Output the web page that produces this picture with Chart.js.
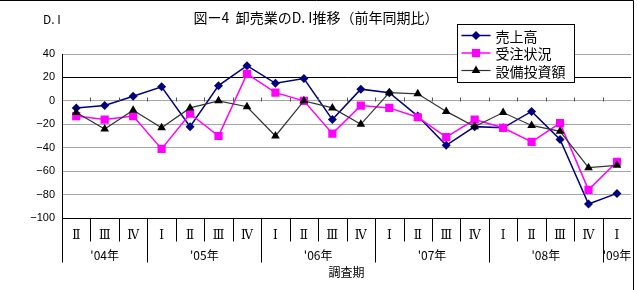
<!DOCTYPE html>
<html>
<head>
<meta charset="utf-8">
<script src="https://cdn.jsdelivr.net/npm/chart.js@4/dist/chart.umd.min.js"></script>
<style>
  html, body { margin: 0; padding: 0; background: #fff; }
  #wrap { width: 637px; height: 290px; position: relative; }
</style>
</head>
<body>
<div id="wrap"><canvas id="chart" width="637" height="290"></canvas></div>
<script>
// survey quarters, '04 II through '09 I
const quarterLabels = ['Ⅱ', 'Ⅲ', 'Ⅳ', 'Ⅰ', 'Ⅱ', 'Ⅲ', 'Ⅳ', 'Ⅰ', 'Ⅱ', 'Ⅲ', 'Ⅳ',
                       'Ⅰ', 'Ⅱ', 'Ⅲ', 'Ⅳ', 'Ⅰ', 'Ⅱ', 'Ⅲ', 'Ⅳ', 'Ⅰ'];
const yearLabels = ["'04年", "'05年", "'06年", "'07年", "'08年", "'09年"];
const yearSpans = [3, 4, 4, 4, 4, 1];

const salesDI   = [-6, -4, 4, 12, -22, 13, 30, 15, 19, -16, 10, 7, -13, -38, -22, -23, -9, -33, -88, -79];
const ordersDI  = [-13, -16, -13, -41, -11, -30, 23, 7, 0, -28, -4, -6, -14, -31, -16, -23, -35, -19, -76, -52];
const capexDI   = [-10, -24, -8, -23, -6, 0, -5, -30, 0, -6, -20, 7, 6, -9, -22, -10, -21, -26, -57, -55];

const seriesNames = ['売上高', '受注状況', '設備投資額'];
const yMin = -100, yMax = 40, yStep = 20;

const titleText = '図ー4  卸売業のD. I推移（前年同期比）';
const yAxisText = 'D. I';
const xAxisText = '調査期';

const jpFont = '"Noto Sans CJK JP", "Noto Sans", sans-serif';
const numFont = '"Liberation Sans", Arial, sans-serif';

// legend marker, drawn to match the point styles used in the chart
function drawMarker(ctx, style, x, y, r, color) {
  ctx.fillStyle = color;
  ctx.beginPath();
  if (style === 'rectRot') {
    ctx.moveTo(x, y - r); ctx.lineTo(x + r, y); ctx.lineTo(x, y + r); ctx.lineTo(x - r, y);
  } else if (style === 'rect') {
    const s = r * Math.SQRT1_2;
    ctx.rect(x - s, y - s, 2 * s, 2 * s);
  } else {
    const h = r * 1.5, w = r * Math.sqrt(3) / 2;
    ctx.moveTo(x, y - r); ctx.lineTo(x + w, y + h - r); ctx.lineTo(x - w, y + h - r);
  }
  ctx.closePath();
  ctx.fill();
}

const decorPlugin = {
  id: 'decor',
  afterDraw(chart) {
    const { ctx, chartArea: a, scales: { x, y } } = chart;
    const n = quarterLabels.length;
    const edge = k => k === 0 ? a.left : k === n ? a.right
      : (x.getPixelForValue(k - 1) + x.getPixelForValue(k)) / 2;
    const y0 = Math.round(y.getPixelForValue(0)) + 0.5;
    const yb = Math.round(a.bottom) + 0.5;

    ctx.save();
    ctx.lineWidth = 1;

    // small ticks above the zero line
    ctx.strokeStyle = '#555';
    ctx.beginPath();
    for (let k = 1; k < n; k++) {
      const px = Math.round(edge(k)) + 0.5;
      ctx.moveTo(px, y0); ctx.lineTo(px, y0 - 4);
    }
    ctx.stroke();

    // category table under the plot
    const yearStarts = [0];
    yearSpans.forEach(s => yearStarts.push(yearStarts[yearStarts.length - 1] + s));
    ctx.strokeStyle = '#000';
    ctx.beginPath();
    for (let k = 0; k < n; k++) {
      const px = Math.round(edge(k)) + 0.5;
      const long = yearStarts.includes(k);
      ctx.moveTo(px, yb); ctx.lineTo(px, long ? yb + 44 : yb + 23);
    }
    ctx.stroke();

    ctx.fillStyle = '#000';
    ctx.textAlign = 'center';
    ctx.textBaseline = 'middle';
    ctx.font = '12px "DejaVu Serif", serif';
    quarterLabels.forEach((q, i) => ctx.fillText(q, x.getPixelForValue(i), yb + 17));

    ctx.font = '12px ' + jpFont;
    yearLabels.forEach((t, i) => {
      const cx = (edge(yearStarts[i]) + edge(yearStarts[i + 1])) / 2;
      ctx.fillText(t, cx, yb + 37);
    });
    ctx.fillText(xAxisText, (a.left + a.right) / 2, yb + 54);

    // title and axis caption
    ctx.font = '14px ' + jpFont;
    ctx.fillText(titleText, 316, 18);
    ctx.font = '12px ' + jpFont;
    ctx.textAlign = 'left';
    ctx.fillText(yAxisText, 43, 19);

    // legend box
    const lx = 457.5, ly = 24.5, lw = 117, lh = 58;
    ctx.fillStyle = '#fff';
    ctx.fillRect(lx, ly, lw, lh);
    ctx.strokeStyle = '#000';
    ctx.strokeRect(lx, ly, lw, lh);
    chart.data.datasets.forEach((ds, i) => {
      const ry = ly + 11 + i * 17.5;
      ctx.strokeStyle = ds.borderColor;
      ctx.lineWidth = ds.borderWidth;
      ctx.beginPath(); ctx.moveTo(lx + 4, ry); ctx.lineTo(lx + 33, ry); ctx.stroke();
      drawMarker(ctx, ds.pointStyle, lx + 18.5, ry, ds.pointRadius, ds.pointBackgroundColor);
      ctx.fillStyle = '#000';
      ctx.font = '14px ' + jpFont;
      ctx.fillText(ds.label, lx + 38, ry + 1);
    });

    // outer frame (top and right)
    ctx.strokeStyle = '#000';
    ctx.lineWidth = 1;
    ctx.beginPath();
    ctx.moveTo(0, 0.5); ctx.lineTo(633.5, 0.5); ctx.lineTo(633.5, 290);
    ctx.stroke();
    ctx.restore();
  }
};

new Chart(document.getElementById('chart').getContext('2d'), {
  type: 'line',
  data: {
    labels: quarterLabels,
    datasets: [
      {
        label: seriesNames[0],
        data: salesDI,
        borderColor: '#000080',
        borderWidth: 1.5,
        pointStyle: 'rectRot',
        pointRadius: 4.5,
        pointBackgroundColor: '#000080',
        pointBorderColor: '#000080',
        pointBorderWidth: 0,
        order: 2
      },
      {
        label: seriesNames[1],
        data: ordersDI,
        borderColor: '#ff00ff',
        borderWidth: 1.5,
        pointStyle: 'rect',
        pointRadius: 5.8,
        pointBackgroundColor: '#ff00ff',
        pointBorderColor: '#ff00ff',
        pointBorderWidth: 0,
        order: 1
      },
      {
        label: seriesNames[2],
        data: capexDI,
        borderColor: '#333333',
        borderWidth: 1.2,
        pointStyle: 'triangle',
        pointRadius: 5,
        pointBackgroundColor: '#000',
        pointBorderColor: '#000',
        pointBorderWidth: 0,
        order: 0
      }
    ]
  },
  options: {
    responsive: false,
    animation: false,
    devicePixelRatio: 1,
    layout: { padding: { left: 0, right: 4, top: 54, bottom: 72 } },
    plugins: {
      legend: { display: false },
      title: { display: false },
      tooltip: { enabled: false }
    },
    scales: {
      x: { display: false, offset: true },
      y: {
        min: yMin,
        max: yMax,
        afterFit: s => { s.width = 62; },
        ticks: {
          stepSize: yStep,
          padding: 7,
          color: '#000',
          font: { family: numFont, size: 11 },
          callback: v => String(v).replace('-', '−')
        },
        grid: {
          drawTicks: false,
          color: c => (c.tick && (c.tick.value === 20 || c.tick.value === yMin)) ? '#000' : '#a6a6a6'
        },
        border: { color: '#000', width: 1 }
      }
    }
  },
  plugins: [decorPlugin]
});
</script>
</body>
</html>
